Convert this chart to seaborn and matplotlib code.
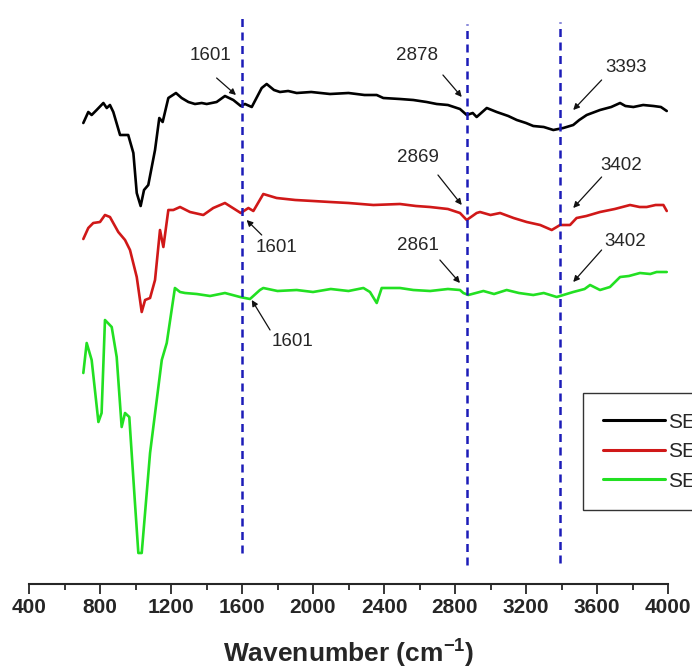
import pandas as pd
import matplotlib
matplotlib.use("Agg")
import matplotlib.pyplot as plt
import seaborn as sns
from matplotlib.ticker import MultipleLocator

# spectra (wavenumber, offset transmittance in a.u.)
black_wn = [706, 734, 753, 781, 819, 838, 856, 875, 913, 959, 988, 1007, 1029, 1048, 1072,
            1110, 1134, 1153, 1185, 1228, 1260, 1298, 1335, 1373, 1401, 1457, 1504, 1551,
            1593, 1617, 1655, 1711, 1739, 1780, 1814, 1860, 1908, 1990, 2096, 2200, 2290,
            2359, 2396, 2490, 2565, 2640, 2697, 2760, 2828, 2866, 2900, 2922, 2979, 3035,
            3100, 3148, 3200, 3241, 3300, 3354, 3410, 3466, 3500, 3542, 3617, 3680, 3730,
            3760, 3805, 3860, 3918, 3960, 3993]
black_t = [461, 472, 469, 474, 481, 476, 479, 472, 449, 449, 431, 391, 378, 394, 399,
           434, 466, 462, 486, 491, 486, 482, 480, 481, 480, 482, 488, 484,
           478, 480, 477, 496, 500, 494, 492, 493, 491, 492, 490, 491, 489,
           489, 486, 485, 484, 482, 480, 479, 475, 469, 471, 467, 476, 472,
           468, 464, 461, 458, 457, 454, 456, 459, 464, 469, 474, 477, 481,
           478, 477, 479, 478, 477, 473]

red_wn = [706, 734, 762, 800, 828, 856, 903, 941, 969, 1007, 1035, 1054, 1082, 1110, 1138,
          1157, 1185, 1213, 1251, 1307, 1382, 1438, 1504, 1593, 1636, 1664, 1720, 1795,
          1900, 2000, 2096, 2200, 2340, 2490, 2580, 2659, 2760, 2828, 2866, 2922, 2941,
          3000, 3054, 3130, 3204, 3280, 3345, 3392, 3448, 3485, 3540, 3617, 3700, 3786,
          3840, 3880, 3930, 3974, 3993]
red_t = [345, 356, 361, 362, 369, 367, 352, 344, 334, 307, 272, 284, 286, 304, 354,
         337, 374, 374, 377, 372, 369, 376, 381, 371, 376, 373, 390, 386,
         384, 383, 382, 381, 379, 380, 378, 377, 375, 371, 364, 371, 372,
         369, 371, 366, 362, 359, 354, 359, 359, 366, 368, 372, 375, 379,
         377, 377, 379, 379, 373]

green_wn = [706, 725, 753, 791, 809, 828, 866, 894, 922, 941, 965, 997, 1016, 1035, 1082,
            1148, 1176, 1222, 1251, 1279, 1345, 1420, 1504, 1589, 1645, 1701, 1720, 1800,
            1908, 2000, 2100, 2200, 2284, 2321, 2359, 2387, 2490, 2565, 2660, 2760, 2828,
            2847, 2875, 2960, 3020, 3091, 3160, 3241, 3300, 3373, 3466, 3530, 3561, 3617,
            3673, 3730, 3780, 3842, 3900, 3936, 3993]
green_t = [211, 241, 224, 162, 171, 264, 257, 227, 157, 171, 167, 81, 31, 31, 131,
           224, 241, 296, 292, 291, 290, 288, 291, 287, 285, 294, 296, 293,
           294, 292, 295, 293, 296, 292, 281, 296, 296, 294, 293, 295, 294,
           291, 289, 293, 290, 294, 291, 289, 291, 287, 292, 295, 299, 294,
           297, 307, 308, 311, 310, 312, 312]

sample_names = ["SE1", "SE2", "SE3"]
sample_colors = ["#000000", "#d01818", "#22e022"]

# marked bands: dashed guide lines
band_wn = [1601, 2869, 3393]
band_top = [571, 560, 562]
band_bottom = [31, 19, 21]

# peak labels: text, text centre, arrow tail, arrow tip
peak_labels = ["1601", "2878", "3393", "2869", "3402", "1601", "2861", "3402", "1601"]
label_pos = [(1420, 529), (2586, 529), (3763, 517), (2592, 427), (3735, 419),
             (1797, 336), (2592, 339), (3758, 343), (1882, 242)]
arrow_tail = [(1457, 506), (2732, 509), (3626, 504), (2704, 409), (3626, 407),
              (1711, 349), (2715, 324), (3626, 334), (1758, 254)]
arrow_tip = [(1566, 489), (2838, 487), (3466, 474), (2838, 379), (3466, 376),
             (1626, 364), (2828, 301), (3466, 302), (1655, 284)]

df = pd.concat([
    pd.DataFrame({"wn": black_wn, "T": black_t, "sample": sample_names[0]}),
    pd.DataFrame({"wn": red_wn, "T": red_t, "sample": sample_names[1]}),
    pd.DataFrame({"wn": green_wn, "T": green_t, "sample": sample_names[2]}),
])

sns.set_style("ticks")
plt.rcParams["font.family"] = ["Liberation Sans", "DejaVu Sans"]
plt.rcParams["mathtext.fontset"] = "custom"
plt.rcParams["mathtext.bf"] = "Liberation Sans:bold"
plt.rcParams["mathtext.rm"] = "Liberation Sans"

fig = plt.figure(figsize=(6.92, 6.68), dpi=100)
ax = fig.add_axes([29 / 692, 84 / 668, 639 / 692, 584 / 668])

sns.lineplot(data=df, x="wn", y="T", hue="sample", palette=sample_colors,
             estimator=None, sort=False, linewidth=1.9, ax=ax)

ax.vlines(band_wn, band_bottom, band_top, colors="#1c1cb8", linestyles=(0, (3.2, 2.2)),
          linewidth=1.8)

for txt, pos, tail, tip in zip(peak_labels, label_pos, arrow_tail, arrow_tip):
    ax.text(pos[0], pos[1], txt, ha="center", va="center", fontsize=13.5, color="#262626")
    ax.annotate("", xy=tip, xytext=tail,
                arrowprops=dict(arrowstyle="-|>", color="#111111", lw=0.9,
                                mutation_scale=9, shrinkA=0, shrinkB=0))

ax.set_xlim(400, 4000)
ax.set_ylim(0, 584)
ax.xaxis.set_major_locator(MultipleLocator(400))
ax.xaxis.set_minor_locator(MultipleLocator(200))
ax.tick_params(axis="x", which="major", length=7, width=1.3, direction="out",
               labelsize=15, pad=3)
ax.tick_params(axis="x", which="minor", length=4, width=1.3, direction="out")
for lab in ax.get_xticklabels():
    lab.set_fontweight("bold")
ax.set_yticks([])
ax.set_ylabel("")
ax.set_xlabel(r"Wavenumber (cm$^{\mathbf{-1}}$)", fontsize=19, fontweight="bold", labelpad=14)
for side in ["left", "right", "top"]:
    ax.spines[side].set_visible(False)
ax.spines["bottom"].set_linewidth(1.5)

leg = ax.legend(loc="upper left", bbox_to_anchor=(583 / 692, 1 - 393 / 668),
                bbox_transform=fig.transFigure, borderaxespad=0, frameon=True,
                fancybox=False, edgecolor="black", fontsize=15, handlelength=3.0,
                handletextpad=0.15, labelspacing=0.5, borderpad=0.95)
leg.get_frame().set_linewidth(1.0)
for line in leg.get_lines():
    line.set_linewidth(2.2)

fig.savefig("out.png", dpi=100)
